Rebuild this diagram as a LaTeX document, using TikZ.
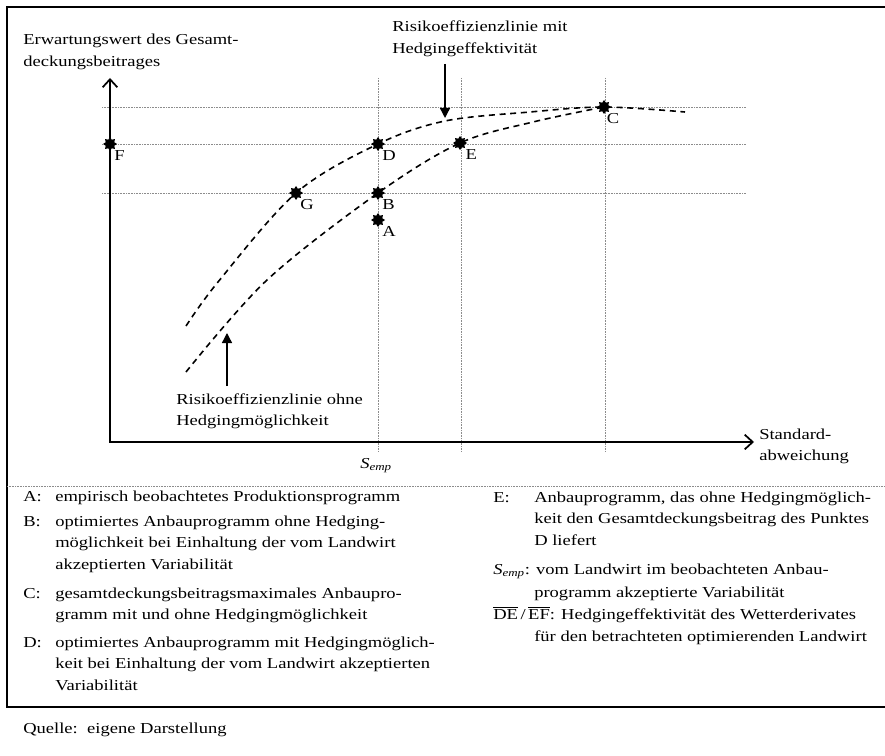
\documentclass[tikz,border=0pt]{standalone}
\usepackage{fontspec}
\setmainfont{Liberation Serif}[FakeStretch=1.22]
\usetikzlibrary{arrows.meta,shapes.geometric,positioning}
\newcommand{\zeilen}[1]{\begin{tabular}[t]{@{}l@{}}#1\end{tabular}}
\tikzset{
    punkt/.style =  {star,
                    star points=8,
                    star point ratio=1.5,
                    fill=black,
                    draw=none,
                    inner sep=0pt,
                    minimum size=10.5pt},
    plabel/.style = {anchor=north west,
                    inner sep=0pt,
                    text=black},
    txt/.style =    {anchor=base west,
                    inner sep=0pt},
    legende/.style ={txt,
                    font=\fontsize{11.4}{16.4}\selectfont},
    raster/.style = {draw=black!45,
                    line width=0.6pt,
                    dash pattern=on 0.6pt off 0.6pt},
    kurve/.style =  {draw=black,
                    line width=1.2pt,
                    dash pattern=on 4.5pt off 3.5pt},
    achse/.style =  {draw=black,
                    line width=1.3pt,
                    {Straight Barb[length=6pt,width=11pt]}-{Straight Barb[length=6pt,width=11pt]}},
    hinweis/.style ={draw=black,
                    line width=1pt,
                    -{Triangle[length=7.5pt,width=7.5pt]}},
    rahmen/.style = {draw=black,
                    line width=2pt}}

\begin{document}
\begin{tikzpicture}[x=0.75pt,y=-0.75pt,font=\fontsize{11.4}{15.8}\selectfont]
    \clip (0,0) rectangle (885,756);
    % Rahmen
    \draw[rahmen] (895,7) -- (7,7) -- (7,707) -- (895,707);
    \draw[raster] (7,486) -- (885,486);

    % Hilfslinien
    \foreach \y in {107,144,193}
        \draw[raster] (102,\y) -- (746,\y);
    \foreach \x in {378,461,605}
        \draw[raster] (\x,78) -- (\x,451);

    % Achsen
    \coordinate (O)    at (110,442);
    \coordinate (ytip) at (110,78);
    \coordinate (xtip) at (754,442);
    \draw[achse] (ytip) -- (O) -- (xtip);

    % Punkte
    \coordinate (pA) at (378,220);
    \coordinate (pB) at (378,193);
    \coordinate (pC) at (604,107);
    \coordinate (pD) at (378,144);
    \coordinate (pE) at (460,143);
    \coordinate (pF) at (110,144);
    \coordinate (pG) at (296,193);

    % Risikoeffizienzlinien
    \draw[kurve] plot[smooth,tension=0.55] coordinates
        {(186,326) (218,282) (pG) (pD) (445,121) (530,112) (pC) (685,112)};
    \draw[kurve] plot[smooth,tension=0.55] coordinates
        {(186,372) (267,280) (pB) (pE) (533,122) (pC)};

    \node[punkt] (A) at (pA) {};
    \node[punkt] (B) at (pB) {};
    \node[punkt] (C) at (pC) {};
    \node[punkt] (D) at (pD) {};
    \node[punkt] (E) at (pE) {};
    \node[punkt] (F) at (pF) {};
    \node[punkt] (G) at (pG) {};
    \node[plabel] (lA) [below right=5pt and 3pt of A.center] {A};
    \node[plabel] (lB) [below right=5pt and 3pt of B.center] {B};
    \node[plabel] (lC) [below right=5pt and 2pt of C.center] {C};
    \node[plabel] (lD) [below right=5pt and 3pt of D.center] {D};
    \node[plabel] (lE) [below right=5pt and 4pt of E.center] {E};
    \node[plabel] (lF) [below right=5pt and 3pt of F.center] {F};
    \node[plabel] (lG) [below right=5pt and 3pt of G.center] {G};

    % Beschriftungen
    \node[txt] (yachse) at (23,45) {\zeilen{Erwartungswert des Gesamt-\\deckungsbeitrages}};
    \node[txt] (xachse) at (759,439) {\zeilen{Standard-\\abweichung}};
    \node[txt] (semp) at (360,468) {\textit{S}\textsubscript{\textit{emp}}};
    \node[txt] (mit) at (392,32) {\zeilen{Risikoeffizienzlinie mit\\Hedgingeffektivität}};
    \node[txt] (ohne) at (176,404) {\zeilen{Risikoeffizienzlinie ohne\\Hedgingmöglichkeit}};
    \coordinate (mitfuss)    at (445,64);
    \coordinate (mitspitze)  at (445,118);
    \coordinate (ohnefuss)   at (227,386);
    \coordinate (ohnespitze) at (227,333);
    \draw[hinweis] (mitfuss) -- (mitspitze);
    \draw[hinweis] (ohnefuss) -- (ohnespitze);

    % Legende
    \node[legende] (kA) at (23,501) {A:};
    \node[legende] (tA) at (55,501) {empirisch beobachtetes Produktionsprogramm};
    \node[legende] (kB) at (23,526) {B:};
    \node[legende] (tB) at (55,526) {\zeilen{optimiertes Anbauprogramm ohne Hedging-\\möglichkeit bei Einhaltung der vom Landwirt\\akzeptierten Variabilität}};
    \node[legende] (kC) at (23,598) {C:};
    \node[legende] (tC) at (55,598) {\zeilen{gesamtdeckungsbeitragsmaximales Anbaupro-\\gramm mit und ohne Hedgingmöglichkeit}};
    \node[legende] (kD) at (23,647) {D:};
    \node[legende] (tD) at (55,647) {\zeilen{optimiertes Anbauprogramm mit Hedgingmöglich-\\keit bei Einhaltung der vom Landwirt akzeptierten\\Variabilität}};
    \node[legende] (kE) at (493,502) {E:};
    \node[legende] (tE) at (534,502) {\zeilen{Anbauprogramm, das ohne Hedgingmöglich-\\keit den Gesamtdeckungsbeitrag des Punktes\\D liefert}};
    \node[legende] (kS) at (493,574) {\textit{S}\textsubscript{\textit{emp}}: vom Landwirt im beobachteten Anbau-};
    \node[legende] (tS) at (534,597) {programm akzeptierte Variabilität};
    \node[legende] (kDE) at (493,619) {\(\overline{\mbox{DE}}\)\,/\,\(\overline{\mbox{EF}}\): Hedgingeffektivität des Wetterderivates};
    \node[legende] (tDE) at (534,641) {für den betrachteten optimierenden Landwirt};

    \node[txt] (quelle) at (23,733) {Quelle:\ \ eigene Darstellung};
\end{tikzpicture}
\end{document}
